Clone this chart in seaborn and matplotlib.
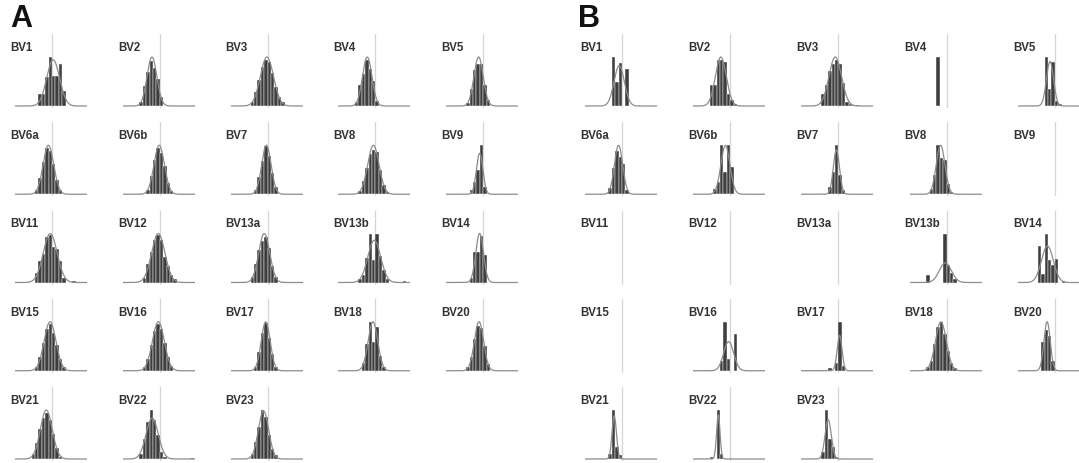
import numpy as np
import pandas as pd
import seaborn as sns
import matplotlib.pyplot as plt

# cell names, same order in both panels (5 per row)
names = ["BV1", "BV2", "BV3", "BV4", "BV5",
         "BV6a", "BV6b", "BV7", "BV8", "BV9",
         "BV11", "BV12", "BV13a", "BV13b", "BV14",
         "BV15", "BV16", "BV17", "BV18", "BV20",
         "BV21", "BV22", "BV23"]

# panel A: first bin (relative to the reference line) and bar heights
a_start = [-4, -6, -5, -6, -5,
           -5, -4, -4, -5, -4,
           -5, -5, -5, -5, -4,
           -5, -5, -4, -4, -5,
           -6, -6, -5]
a_bars = [
    [25, 25, 60, 100, 62, 62, 85, 30],
    [8, 45, 75, 100, 85, 60, 20],
    [8, 30, 55, 85, 100, 95, 70, 40, 20, 8],
    [8, 45, 70, 100, 80, 55, 10],
    [8, 40, 85, 100, 100, 50, 15],
    [10, 35, 70, 100, 95, 65, 30, 10],
    [10, 40, 75, 100, 90, 60, 25, 8],
    [8, 35, 70, 100, 80, 45, 15],
    [8, 30, 60, 90, 100, 95, 55, 20, 5],
    [8, 25, 50, 100, 15],
    [20, 45, 60, 95, 100, 75, 70, 45, 10, 0, 0, 4],
    [10, 40, 65, 90, 100, 90, 55, 35, 15, 8],
    [12, 40, 70, 90, 100, 75, 35, 12],
    [8, 15, 50, 100, 45, 100, 55, 25, 8, 0, 0, 0, 0, 3],
    [10, 65, 65, 100, 60],
    [8, 30, 60, 90, 100, 80, 55, 25, 8],
    [8, 25, 55, 85, 100, 90, 60, 30, 10],
    [8, 40, 80, 100, 70, 35, 8],
    [15, 55, 100, 60, 90, 30, 8],
    [8, 30, 70, 100, 95, 55, 15],
    [12, 35, 65, 90, 100, 85, 55, 25, 5],
    [10, 40, 75, 100, 80, 50, 15, 5, 0, 0, 0, 0, 0, 0, 0, 3],
    [10, 35, 65, 100, 85, 50, 20, 8],
]

# panel B (empty list = no data, only the reference line)
b_start = [-3, -6, -5, -3, -3,
           -4, -5, -3, -5, 0,
           0, 0, 0, -6, -5,
           0, -3, -3, -6, -4,
           -4, -6, -5]
b_bars = [
    [100, 50, 88, 0, 75],
    [45, 45, 100, 100, 95, 25, 12, 5, 3],
    [25, 45, 75, 90, 100, 90, 50, 8, 5, 3, 2],
    [100],
    [100, 35, 90, 10, 4],
    [15, 60, 100, 85, 70, 10],
    [10, 25, 100, 45, 100, 55],
    [15, 45, 100, 40, 8],
    [10, 40, 100, 75, 70, 20, 5],
    [],
    [],
    [],
    [],
    [15, 0, 0, 0, 0, 100, 35, 20, 8],
    [75, 18, 100, 45, 35, 48, 0, 3],
    [],
    [20, 100, 25, 0, 75],
    [5, 0, 15, 100, 10],
    [8, 20, 55, 90, 100, 75, 40, 15, 5],
    [70, 100, 85, 25],
    [10, 100, 25, 8],
    [5, 0, 100, 10],
    [15, 100, 40, 25, 5],
]

W, H = 1079, 464
sns.set_theme(style="white")
plt.rcParams["font.family"] = ["Liberation Sans", "DejaVu Sans"]

fig = plt.figure(figsize=(W / 100, H / 100), dpi=100)
fig.patch.set_facecolor("white")

PX = 3.4          # pixels per bin
UNIT = 49.0       # pixels for the tallest mark
BAR = "#3e3e3e"
CURVE = "#8c8c8c"
VLINE = "#d4d4d4"


def draw_cell(vx, base, name, start, bars):
    ax = fig.add_axes([(vx - 37) / W, 1 - (base + 2) / H, 72 / W, 74 / H])
    ax.axis("off")
    xlo, xhi = -37 / PX, 35 / PX
    ax.axvline(0, color=VLINE, lw=0.9, zorder=0)
    if len(bars) > 0:
        h = np.array(bars, dtype=float)
        lo, hi = float(start), float(start + len(h))
        centers = np.arange(len(h)) + start + 0.5
        n = h.sum()
        mu = (h * centers).sum() / n
        sd = np.sqrt((h * (centers - mu) ** 2).sum() / n)
        gx = np.linspace(xlo, xhi, 300)
        scale = h.max()
        if sd > 0:
            gy = n / (sd * np.sqrt(2 * np.pi)) * np.exp(-0.5 * ((gx - mu) / sd) ** 2)
            scale = max(scale, gy.max())
        df = pd.DataFrame({"x": centers, "w": h / scale})
        sns.histplot(data=df, x="x", weights="w", binwidth=1, binrange=(lo, hi),
                     ax=ax, color=BAR, edgecolor="white", linewidth=0.3,
                     alpha=1, zorder=2)
        if sd > 0:
            sns.lineplot(x=gx, y=gy / scale, ax=ax, color=CURVE, lw=0.9,
                         zorder=3)
    ax.set_xlim(xlo, xhi)
    ax.set_ylim(-2 / UNIT, 72 / UNIT)
    ax.axis("off")
    ax.text(-42 / PX, 59 / UNIT, name, ha="left", va="center",
            fontsize=8.3, fontweight="bold", color="#333333", clip_on=False)


def draw_panel(x0, pitch, starts, barsets):
    for i, name in enumerate(names):
        r, c = divmod(i, 5)
        draw_cell(x0 + c * pitch, 107 + r * 88.25, name, starts[i], barsets[i])


draw_panel(52, 107.8, a_start, a_bars)
draw_panel(622, 108.2, b_start, b_bars)

fig.text(10 / W, 1 - 19 / H, "A", fontsize=22, fontweight="bold",
         ha="left", va="center", color="#111111")
fig.text(578 / W, 1 - 19 / H, "B", fontsize=22, fontweight="bold",
         ha="left", va="center", color="#111111")

fig.savefig("out.png", dpi=100, facecolor="white")
